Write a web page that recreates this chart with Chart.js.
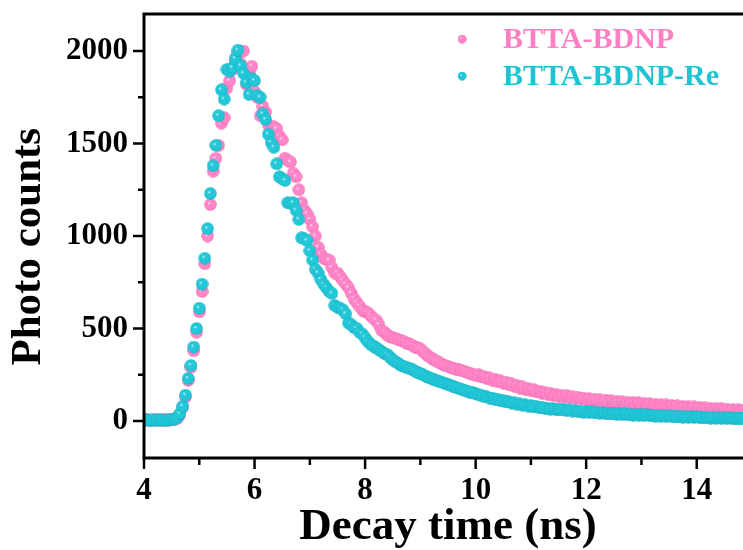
<!doctype html>
<html>

<head>
  <title>Decay time</title>
  <script src="https://cdn.jsdelivr.net/npm/chart.js@4.4.0/dist/chart.umd.min.js"></script>
  <style>
    html, body {
      margin: 0;
      padding: 0;
      background: #fff;
      overflow: hidden;
    }
    .chart {
      position: relative;
      width: 760px;
      height: 550px;
    }
  </style>
</head>

<body>
  <div class="chart">
    <canvas id="myChart"></canvas>
  </div>

  <script>
    var seriesNames = ['BTTA-BDNP', 'BTTA-BDNP-Re'];

    // channel times: first channel and channel width, ns
    var timeStart = 4.0;
    var timeStep = 0.05;

    // counts per channel, 10 channels (0.5 ns) per row
    var countsBDNP = [
      5, 7, 4, 6, 5, 8, 4, 6, 7, 5,
      6, 9, 15, 35, 75, 130, 220, 290, 380, 480,
      590, 700, 850, 1000, 1170, 1350, 1420, 1490, 1610, 1640,
      1800, 1840, 1900, 1950, 1990, 1930, 2000, 1820, 1880, 1918,
      1780, 1750, 1650, 1700, 1670, 1600, 1575, 1590, 1580, 1540,
      1520, 1420, 1410, 1400, 1340, 1320, 1250, 1180, 1140, 1120,
      1090, 1050, 1000, 940, 900, 880, 875, 870, 830, 800,
      800, 780, 760, 740, 720, 690, 660, 640, 620, 600,
      590, 585, 570, 555, 545, 520, 490, 480, 465, 455,
      450, 446, 440, 435, 430, 420, 418, 410, 400, 395,
      390, 375, 362, 350, 340, 330, 322, 314, 306, 300,
      295, 290, 286, 281, 276, 272, 268, 263, 258, 253,
      248, 252, 238, 241, 229, 233, 220, 226, 212, 217,
      205, 210, 196, 201, 187, 192, 178, 184, 171, 176,
      165, 170, 157, 162, 150, 156, 145, 150, 138, 144,
      134, 140, 129, 137, 127, 132, 122, 129, 119, 124,
      115, 121, 111, 118, 109, 114, 107, 113, 103, 109,
      101, 107, 98, 104, 96, 101, 95, 100, 92, 98,
      90, 95, 87, 93, 85, 90, 84, 89, 81, 87,
      79, 84, 76, 82, 74, 79, 73, 78, 70, 76,
      68, 73, 66, 71, 64, 69, 63, 68, 61, 66,
      59, 64, 57, 62, 56, 60, 55, 59, 53, 58,
      54
    ];

    var countsBDNPRe = [
      4, 6, 3, 5, 7, 4, 6, 5, 3, 6,
      8, 10, 18, 40, 80, 140, 230, 300, 400, 500,
      610, 740, 880, 1040, 1230, 1380, 1490, 1650, 1790, 1740,
      1900, 1890, 1910, 1960, 2005, 1920, 1880, 1830, 1765, 1850,
      1840, 1760, 1750, 1660, 1630, 1550, 1505, 1480, 1390, 1320,
      1310, 1300, 1180, 1175, 1180, 1140, 1090, 990, 985, 975,
      920, 870, 820, 800, 765, 740, 720, 700, 690, 625,
      615, 610, 600, 580, 530, 520, 505, 500, 480, 470,
      450, 430, 415, 405, 395, 385, 375, 365, 360, 345,
      330, 320, 312, 300, 295, 290, 285, 280, 270, 262,
      255, 250, 242, 235, 230, 222, 218, 212, 208, 203,
      198, 192, 185, 180, 176, 170, 166, 162, 156, 152,
      147, 141, 139, 133, 131, 124, 124, 117, 117, 110,
      110, 103, 104, 97, 98, 91, 92, 86, 87, 81,
      82, 76, 78, 72, 74, 68, 70, 64, 68, 62,
      64, 60, 62, 56, 60, 54, 56, 51, 54, 48,
      52, 46, 49, 44, 47, 42, 46, 40, 43, 39,
      42, 36, 41, 35, 40, 34, 37, 32, 36, 31,
      36, 30, 33, 29, 32, 27, 31, 26, 29, 25,
      28, 23, 27, 22, 26, 21, 25, 20, 23, 19,
      22, 18, 21, 17, 20, 16, 19, 15, 18, 14,
      17, 13, 17, 13, 16, 12, 15, 11, 15, 11,
      12
    ];

    var xTickLabels = [4, 6, 8, 10, 12, 14];
    var yTickLabels = [0, 500, 1000, 1500, 2000];

    var pink = { main: '#ff86c8', edge: '#ea5fa8', text: '#ff7fc4' };
    var cyan = { main: '#22c8d8', edge: '#0fa5b8', text: '#1ec4d4' };
    var serif = "'Times New Roman', 'Liberation Serif', serif";

    // shaded ball used as point style
    function makeBall(c, size) {
      var cv = document.createElement('canvas');
      cv.width = size;
      cv.height = size;
      var g = cv.getContext('2d');
      var r = size / 2;
      var grad = g.createRadialGradient(r - 1.5, r - 1.5, 0, r, r, r);
      grad.addColorStop(0, '#ffffff');
      grad.addColorStop(0.25, c.main);
      grad.addColorStop(0.8, c.main);
      grad.addColorStop(1, c.edge);
      g.fillStyle = grad;
      g.beginPath();
      g.arc(r, r, r - 0.3, 0, Math.PI * 2);
      g.fill();
      return cv;
    }

    var ballPink = makeBall(pink, 13);
    var ballCyan = makeBall(cyan, 13);

    function toPoints(counts) {
      return counts.map(function(v, i) {
        return { x: timeStart + i * timeStep, y: v };
      });
    }

    var frameAndTicks = {
      id: 'frameAndTicks',
      afterDraw: function(chart) {
        var ctx = chart.ctx;
        var a = chart.chartArea;
        var sx = chart.scales.x;
        var sy = chart.scales.y;
        ctx.save();
        ctx.strokeStyle = '#000';
        ctx.lineWidth = 2.5;
        sx.ticks.forEach(function(t) {
          if (t.value % 1 !== 0) return;
          var px = sx.getPixelForValue(t.value);
          var len = xTickLabels.indexOf(t.value) >= 0 ? 11 : 7;
          ctx.beginPath();
          ctx.moveTo(px, a.bottom);
          ctx.lineTo(px, a.bottom + len);
          ctx.stroke();
        });
        sy.ticks.forEach(function(t) {
          if (t.value % 250 !== 0 || t.value < 0 || t.value > 2000) return;
          var py = sy.getPixelForValue(t.value);
          var len = yTickLabels.indexOf(t.value) >= 0 ? 11 : 6;
          ctx.beginPath();
          ctx.moveTo(a.left, py);
          ctx.lineTo(a.left - len, py);
          ctx.stroke();
        });
        ctx.lineWidth = 3;
        ctx.strokeRect(a.left, a.top, a.right - a.left, a.bottom - a.top);
        ctx.restore();
      }
    };

    var insideLegend = {
      id: 'insideLegend',
      afterDraw: function(chart) {
        var ctx = chart.ctx;
        var a = chart.chartArea;
        var rows = [
          { name: seriesNames[0], ball: ballPink, color: pink.text, y: a.top + 25 },
          { name: seriesNames[1], ball: ballCyan, color: cyan.text, y: a.top + 62 }
        ];
        ctx.save();
        ctx.font = 'bold 30px ' + serif;
        ctx.textBaseline = 'middle';
        rows.forEach(function(r) {
          var mx = a.left + 318;
          ctx.drawImage(r.ball, mx - 4.5, r.y - 4.5, 9, 9);
          ctx.fillStyle = r.color;
          ctx.fillText(r.name, a.left + 359, r.y + 1);
        });
        ctx.restore();
      }
    };

    var config = {
      type: 'scatter',
      data: {
        datasets: [{
          label: seriesNames[0],
          data: toPoints(countsBDNP),
          pointStyle: ballPink,
          pointRadius: 6,
          backgroundColor: pink.main,
          borderColor: pink.main,
          showLine: false,
          order: 2
        }, {
          label: seriesNames[1],
          data: toPoints(countsBDNPRe),
          pointStyle: ballCyan,
          pointRadius: 6,
          backgroundColor: cyan.main,
          borderColor: cyan.main,
          showLine: false,
          order: 1
        }]
      },
      options: {
        responsive: true,
        maintainAspectRatio: false,
        animation: false,
        layout: {
          padding: { top: 14, right: 8, left: 0, bottom: 0 }
        },
        scales: {
          x: {
            type: 'linear',
            min: 4,
            max: 15,
            afterFit: function(s) {
              s.height = 92;
              s.paddingLeft = 0;
              s.paddingRight = 0;
            },
            border: { display: false },
            grid: {
              drawOnChartArea: false,
              tickLength: 11,
              tickColor: 'rgba(0,0,0,0)'
            },
            ticks: {
              stepSize: 1,
              autoSkip: false,
              maxRotation: 0,
              padding: 3,
              color: '#000',
              font: { family: serif, size: 31, weight: 'bold' },
              callback: function(v) {
                return xTickLabels.indexOf(v) >= 0 ? String(v) : '';
              }
            },
            title: {
              display: true,
              text: 'Decay time (ns)',
              color: '#000',
              font: { family: serif, size: 45, weight: 'bold', lineHeight: 1.0 },
              padding: { top: 0, bottom: 0 }
            }
          },
          y: {
            type: 'linear',
            min: -200,
            max: 2200,
            afterFit: function(s) {
              s.width = 144;
              s.paddingTop = 0;
              s.paddingBottom = 0;
            },
            border: { display: false },
            grid: {
              drawOnChartArea: false,
              tickLength: 11,
              tickColor: 'rgba(0,0,0,0)'
            },
            ticks: {
              stepSize: 250,
              autoSkip: false,
              padding: 5,
              color: '#000',
              font: { family: serif, size: 31, weight: 'bold' },
              callback: function(v) {
                return yTickLabels.indexOf(v) >= 0 ? String(v) : '';
              }
            },
            title: {
              display: true,
              // trailing spaces push the rotated title a little lower, as in the original
              text: 'Photo counts  ',
              color: '#000',
              font: { family: serif, size: 43, weight: 'bold', lineHeight: 1.0 },
              padding: { top: 7, bottom: 0 }
            }
          }
        },
        plugins: {
          legend: { display: false },
          tooltip: { enabled: false }
        }
      },
      plugins: [frameAndTicks, insideLegend]
    };

    window.onload = function() {
      var ctx = document.getElementById('myChart').getContext('2d');
      window.myChart = new Chart(ctx, config);
    };
  </script>
</body>

</html>
